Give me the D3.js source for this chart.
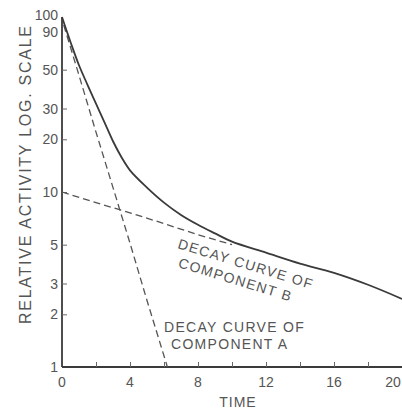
<!DOCTYPE html>
<html><head><meta charset="utf-8">
<script src="https://cdn.jsdelivr.net/npm/d3@7"></script>
<style>
html,body{margin:0;padding:0;background:#fff;overflow:hidden}
text{font-family:"Liberation Sans",Arial,sans-serif;fill:#555}
</style></head>
<body><svg id="c" width="402" height="414"></svg>
<script>
// ---- data ----
const yTickValues = [1, 2, 3, 5, 10, 20, 30, 50, 90, 100];
const yTickLabels = ["1", "2", "3", "5", "10", "20", "30", "50", "90", "100"];
const yTickMarks = [2, 3, 5, 10, 20, 30, 50];
const xTickValues = [0, 4, 8, 12, 16, 20];
const xTickLabels = ["0", "4", "8", "12", "16", "20"];
const xMinorTicks = [2, 4, 6, 8, 10, 12, 14, 16, 18];

// total activity (solid)
const totalTime  = [0, 0.5, 1, 1.5, 2, 2.5, 3, 3.5, 4, 5, 6, 7, 8, 9, 10, 12, 14, 16, 18, 20];
const totalValue = [100, 72, 53, 41, 32, 25, 19.5, 15.8, 13.3, 10.6, 8.7, 7.4, 6.5, 5.8, 5.2, 4.5, 3.9, 3.45, 2.95, 2.45];
// component A (dashed, steep)
const compATime  = [0.1, 0.9, 2, 3, 4, 5, 6.2];
const compAValue = [90, 50, 22, 10.6, 5.1, 2.4, 1];
// component B (dashed, slow)
const compBTime  = [0, 2, 4, 6, 8, 10];
const compBValue = [10, 8.7, 7.6, 6.6, 5.7, 5.0];

const svg = d3.select("#c");
const x = d3.scaleLinear().domain([0, 20]).range([62, 402]);
const y = d3.scaleLog().domain([1, 100]).range([367, 17]);

const ink = "#3a3a3a";

// axes lines
const xAxis = d3.axisBottom(x).tickValues(xMinorTicks).tickSize(-5).tickFormat("");
const gx = svg.append("g").attr("transform", `translate(0,${y(1)})`).call(xAxis);
gx.select(".domain").attr("d", `M${x(0)},0H${x(20)}`).attr("stroke", ink).attr("stroke-width", 1.8);
gx.selectAll(".tick line").attr("stroke", "#666").attr("stroke-width", 1);

const yAxis = d3.axisLeft(y).tickValues(yTickMarks).tickSize(-5).tickFormat("");
const gy = svg.append("g").attr("transform", `translate(${x(0)},0)`).call(yAxis);
gy.select(".domain").attr("d", `M0,${y(1)}V${y(100)}`).attr("stroke", ink).attr("stroke-width", 1.8);
gy.selectAll(".tick line").attr("stroke", "#666").attr("stroke-width", 1);

// y tick labels
svg.append("g").selectAll("text").data(yTickValues).join("text")
  .attr("x", x(0) - 4)
  .attr("y", (d) => y(d) + (d === 90 ? 7 : d === 100 ? -2 : 0))
  .attr("dy", "0.36em")
  .attr("text-anchor", "end")
  .attr("font-size", 14)
  .text((d, i) => yTickLabels[i]);

// x tick labels
svg.append("g").selectAll("text").data(xTickValues).join("text")
  .attr("x", (d) => x(d) - (d === 20 ? 9 : 0))
  .attr("y", y(1) + 15)
  .attr("dy", "0.36em")
  .attr("text-anchor", "middle")
  .attr("font-size", 14)
  .text((d, i) => xTickLabels[i]);

// axis titles
svg.append("text")
  .attr("x", 238).attr("y", 407)
  .attr("text-anchor", "middle").attr("font-size", 14)
  .attr("letter-spacing", 1)
  .text("TIME");

svg.append("text")
  .attr("transform", "translate(31,175) rotate(-90)")
  .attr("text-anchor", "middle").attr("font-size", 16)
  .attr("textLength", 298).attr("lengthAdjust", "spacing")
  .text("RELATIVE ACTIVITY LOG. SCALE");

// curves
const line = d3.line().x((d) => x(d[0])).y((d) => y(d[1])).curve(d3.curveCatmullRom.alpha(0.5));
const straight = d3.line().x((d) => x(d[0])).y((d) => y(d[1])).curve(d3.curveLinear);

svg.append("path")
  .attr("d", straight(compATime.map((t, i) => [t, compAValue[i]])))
  .attr("fill", "none").attr("stroke", "#555").attr("stroke-width", 1.3)
  .attr("stroke-dasharray", "7,4");

svg.append("path")
  .attr("d", straight(compBTime.map((t, i) => [t, compBValue[i]])))
  .attr("fill", "none").attr("stroke", "#555").attr("stroke-width", 1.3)
  .attr("stroke-dasharray", "7,4");

svg.append("path")
  .attr("d", line(totalTime.map((t, i) => [t, totalValue[i]])))
  .attr("fill", "none").attr("stroke", ink).attr("stroke-width", 1.8);

// annotations
const gB = svg.append("g").attr("transform", "translate(177,248) rotate(17)");
gB.append("text").attr("x", 0).attr("y", 0).attr("font-size", 14)
  .attr("letter-spacing", 1.3).text("DECAY CURVE OF");
gB.append("text").attr("x", 6).attr("y", 18).attr("font-size", 14)
  .attr("letter-spacing", 1.3).text("COMPONENT B");

svg.append("text").attr("x", 164).attr("y", 332).attr("font-size", 14)
  .attr("letter-spacing", 1.3).text("DECAY CURVE OF");
svg.append("text").attr("x", 171).attr("y", 349).attr("font-size", 14)
  .attr("letter-spacing", 1.3).text("COMPONENT A");
</script></body></html>
